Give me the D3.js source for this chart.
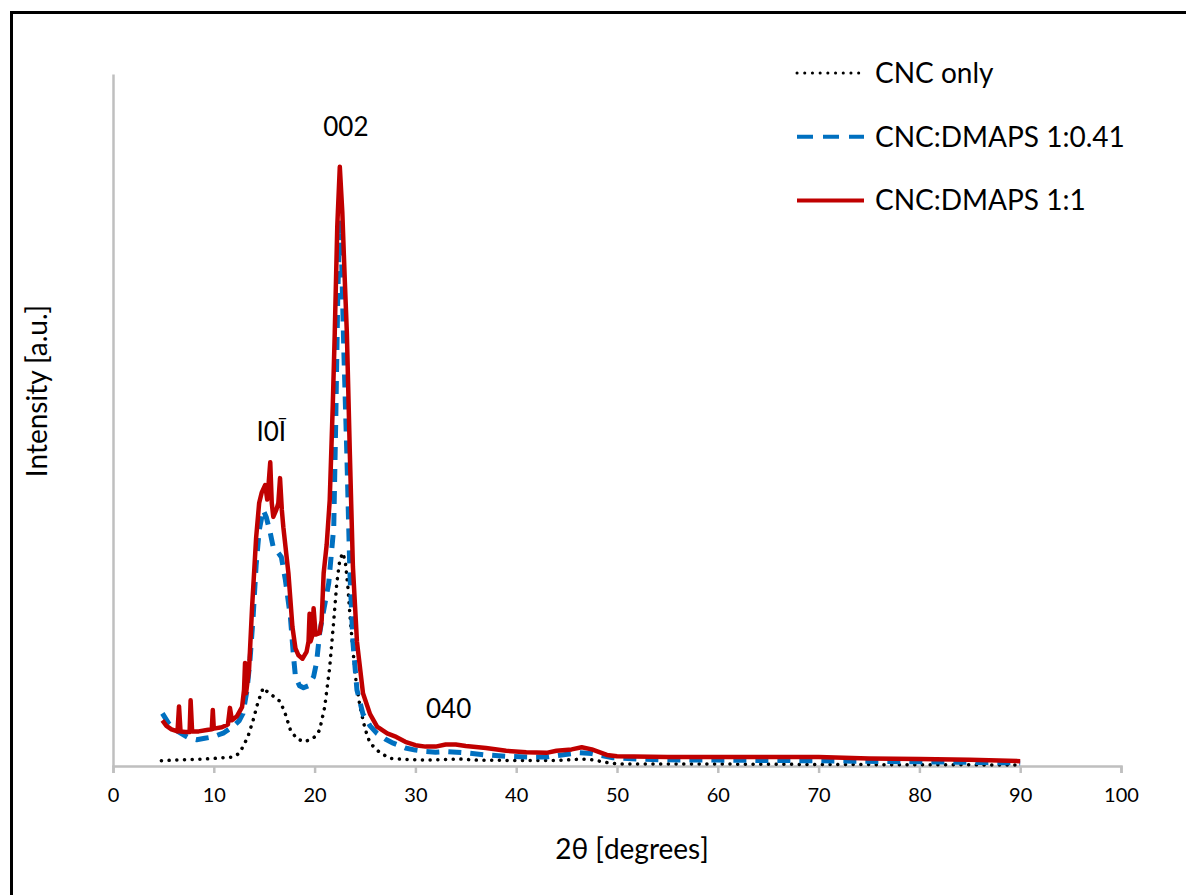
<!DOCTYPE html>
<html>
<head>
<meta charset="utf-8">
<script src="https://cdn.jsdelivr.net/npm/d3@7"></script>
<style>
  body { margin: 0; background: #fff; }
  svg { display: block; }
  text { font-family: Lato, "Open Sans", sans-serif; fill: #000; }
</style>
</head>
<body>
<svg width="1186" height="895"></svg>
<script>
// XRD patterns, [2theta, intensity (a.u., 0-100 scale)]
const cncOnly = [
  [4.8,0.77],[7,0.9],[9,1.0],[10.5,1.15],[11.9,1.3],[12.5,1.8],[12.9,2.8],[13.4,4.3],[13.9,6.6],
  [14.4,9.3],[14.9,11.3],[15.4,10.6],[16,10.0],[16.6,9.3],[17.1,7.5],[17.6,5.2],[18.2,4.0],[18.9,3.5],
  [19.6,3.8],[20.1,4.3],[20.5,5.2],[21,8.5],[21.5,14.3],[21.9,21],[22.2,26.4],[22.5,29.8],[22.8,30.8],
  [23.05,29.5],[23.3,25.9],[23.55,21],[23.8,16.8],[24.1,12.5],[24.5,8.6],[25,5.4],[25.5,3.3],[26.5,1.9],
  [27.5,1.1],[29,0.95],[31,0.85],[33,0.95],[34.5,1.0],[36,0.85],[40,0.8],[44,0.8],[46.5,1.0],[47.5,0.9],
  [49,0.5],[50,0.3],[60,0.28],[70,0.22],[80,0.18],[90,0.15]
]
const dmaps041 = [
  [4.9,7.6],[5.5,6.2],[6.2,5.2],[7,4.5],[7.6,4.0],[8.3,3.8],[9.1,4.0],[9.9,4.2],[11,4.8],[11.9,5.7],
  [12.5,6.5],[12.9,7.6],[13.3,11],[13.6,15.5],[13.9,21.5],[14.2,29],[14.5,34],[14.9,37],[15.2,36],
  [15.6,33.7],[15.9,31.6],[16.3,31],[16.7,30.2],[17.1,26.9],[17.6,21.5],[17.9,16],[18.1,12.9],[18.5,11.6],
  [18.9,11.3],[19.4,11.6],[19.9,12.9],[20.2,15],[20.5,19.2],[20.9,22.5],[21.4,26.4],[21.9,34.5],[22.1,50],
  [22.3,68],[22.5,79],[22.7,72],[22.9,60],[23.2,45],[23.5,28],[23.8,18],[24.2,11],[24.8,7.5],[25.5,5.8],
  [26.2,4.7],[27,3.9],[27.8,3.3],[29,2.6],[30,2.3],[31,2.1],[32,2.0],[33,2.1],[34.1,2.0],[35,1.9],
  [37,1.6],[39,1.4],[41.4,1.3],[43,1.3],[44.5,1.6],[46.3,1.9],[47.5,1.8],[49.6,1.2],[52,1.0],[54.6,0.9],
  [60,0.85],[70,0.75],[80,0.6],[90,0.45]
]
const dmaps11 = [
  [4.9,6.6],[5.3,5.8],[5.8,5.3],[6.4,5.0],[6.55,8.6],[6.7,5.0],[7.2,4.9],[7.6,4.9],[7.7,9.5],[7.85,5.0],
  [8.5,5.0],[9.3,5.2],[9.8,5.3],[9.9,8.1],[10.0,5.4],[10.8,5.6],[11.4,6.0],[11.6,8.4],[11.8,6.6],[12.3,7.2],
  [12.8,8.5],[13.0,11],[13.1,14.9],[13.2,10.5],[13.5,14],[13.8,23],[14.2,33],[14.5,38],[14.75,39.5],
  [15.1,40.6],[15.3,38.5],[15.45,41],[15.6,43.9],[15.75,38],[15.9,36],[16.2,37],[16.4,38],[16.57,41.6],
  [16.75,37],[16.9,34.5],[17.4,27.9],[17.8,20.1],[18.1,17],[18.4,16],[18.8,15.5],[19.2,16.5],[19.4,18],
  [19.5,22],[19.6,18],[19.8,19],[19.9,22.8],[20.1,19],[20.5,19.2],[20.7,21],[20.9,27.9],[21.2,32],
  [21.5,38.4],[21.8,52],[22.0,62.6],[22.25,78],[22.5,86.6],[22.75,80],[23.0,70],[23.2,62.6],[23.5,45],
  [23.8,28.8],[24.2,18],[24.8,10.5],[25.5,7.5],[26.2,5.7],[27.2,4.7],[28.1,4.2],[29,3.5],[30,3.0],
  [31,2.8],[32,2.8],[33,3.1],[34,3.1],[35,2.9],[37,2.6],[39,2.2],[41,2.0],[43,1.9],[44,2.2],[45.5,2.4],
  [46.5,2.7],[47.5,2.4],[49,1.6],[50,1.4],[55,1.3],[60,1.3],[65,1.3],[70,1.3],[75,1.1],[80,1.0],
  [85,0.9],[90,0.7]
]
const seriesNames = ["CNC only", "CNC:DMAPS 1:0.41", "CNC:DMAPS 1:1"]
const xTicks = [0, 10, 20, 30, 40, 50, 60, 70, 80, 90, 100]
const peakLabels = [
  { text: "002", theta: 23.1, value: 91 },
  { text: "I0\u012A", theta: 15.7, value: 47 },
  { text: "040", theta: 33.3, value: 6.9 }
]

const svg = d3.select("svg")

// outer chart border (only top/left fall inside the picture)
svg.append("rect")
  .attr("x", 11.5).attr("y", 12.5)
  .attr("width", 1200).attr("height", 900)
  .attr("fill", "none").attr("stroke", "#000").attr("stroke-width", 3)

const x = d3.scaleLinear().domain([0, 100]).range([113, 1121])
const y = d3.scaleLinear().domain([0, 100]).range([766, 74])

// axes
const xAxisG = svg.append("g")
  .attr("transform", `translate(0,${y(0)})`)
  .call(d3.axisBottom(x).tickValues(xTicks).tickSize(7).tickPadding(15))
xAxisG.select(".domain").attr("stroke", "#bfbfbf").attr("stroke-width", 2.5)
xAxisG.selectAll(".tick line").attr("stroke", "#bfbfbf").attr("stroke-width", 2.5)
xAxisG.selectAll(".tick text")
  .style("font-family", "Lato, sans-serif")
  .style("font-size", "20px").attr("fill", "#000")

const yAxisG = svg.append("g")
  .attr("transform", `translate(${x(0)},0)`)
  .call(d3.axisLeft(y).tickValues([]).tickSizeOuter(0))
yAxisG.select(".domain").attr("stroke", "#bfbfbf").attr("stroke-width", 2.5)

// axis titles
svg.append("text")
  .attr("x", 632).attr("y", 859)
  .attr("text-anchor", "middle").style("font-size", "28px")
  .text("2\u03b8 [degrees]")
svg.append("text")
  .attr("transform", "translate(47,391) rotate(-90)")
  .attr("text-anchor", "middle").style("font-size", "28px")
  .text("Intensity [a.u.]")

// curves
const line = d3.line().x(d => x(d[0])).y(d => y(d[1]))
const styles = [
  { color: "#000000", width: 3.5, dash: "0.1,7.6", cap: "round" },
  { color: "#0070c0", width: 5, dash: "13,9", cap: "butt" },
  { color: "#c00000", width: 4.5, dash: null, cap: "butt" }
]
const allSeries = [cncOnly, dmaps041, dmaps11]

svg.append("g").selectAll("path")
  .data(allSeries)
  .join("path")
    .attr("d", line)
    .attr("fill", "none")
    .attr("stroke", (d, i) => styles[i].color)
    .attr("stroke-width", (d, i) => styles[i].width)
    .attr("stroke-dasharray", (d, i) => styles[i].dash)
    .attr("stroke-linecap", (d, i) => styles[i].cap)
    .attr("stroke-linejoin", "round")

// peak labels
svg.append("g").selectAll("text")
  .data(peakLabels)
  .join("text")
    .attr("x", d => x(d.theta))
    .attr("y", d => y(d.value))
    .attr("text-anchor", "middle")
    .style("font-size", "26px")
    .text(d => d.text)

// legend
const legend = svg.append("g").attr("transform", "translate(797,73)")
seriesNames.forEach((name, i) => {
  const row = legend.append("g").attr("transform", `translate(0,${i * 63.7})`)
  row.append("line")
    .attr("x1", 0).attr("x2", 67).attr("y1", 0).attr("y2", 0)
    .attr("stroke", styles[i].color)
    .attr("stroke-width", i == 0 ? 3 : 4)
    .attr("stroke-dasharray", i == 1 ? "16,10" : styles[i].dash)
    .attr("stroke-linecap", styles[i].cap)
  row.append("text")
    .attr("x", 78).attr("y", 10)
    .style("font-size", "28px")
    .text(name)
})
</script>
</body>
</html>
